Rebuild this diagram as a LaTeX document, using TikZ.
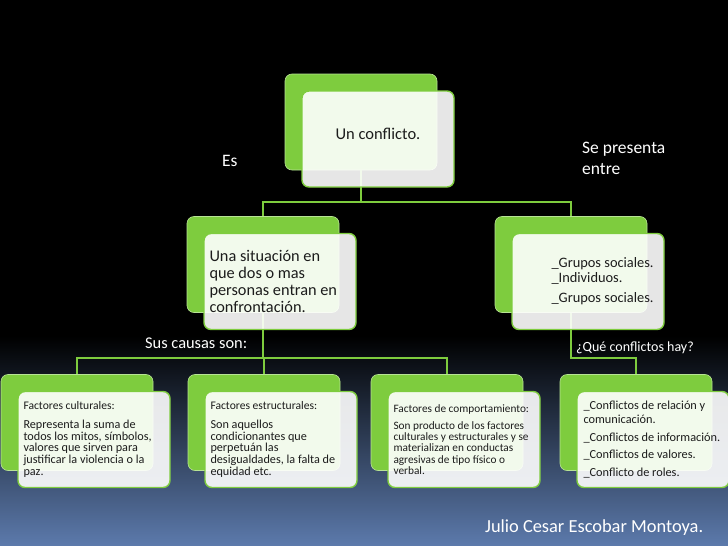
\documentclass[tikz,border=0pt]{standalone}
\usepackage{fontspec}
\setmainfont{Carlito}
\usepackage{xcolor}
\definecolor{leaf}{RGB}{126,204,62}
\definecolor{ink}{RGB}{28,28,28}
\definecolor{nightblue}{RGB}{92,122,172}
\definecolor{dusk}{RGB}{30,38,56}
\usetikzlibrary{positioning,calc}
\tikzset{
  greenbox/.style={draw=leaf!55!white, line width=0.6pt, fill=leaf,
                   rounded corners=7pt, minimum width=152pt,
                   minimum height=96pt, inner sep=0pt},
  whitebox/.style={draw=leaf, line width=1.4pt, fill=white, fill opacity=0.9,
                   rounded corners=7pt, minimum width=152pt,
                   minimum height=96pt, inner sep=0pt},
  boxtext/.style={text=ink, align=left, inner sep=0pt, anchor=west},
  link/.style={draw=leaf, line width=1.4pt},
  caption/.style={text=white, align=left, inner sep=0pt, anchor=west},
}

\begin{document}
\begin{tikzpicture}[x=1pt,y=-1pt]
\useasboundingbox (0,0) rectangle (728,546);
% background
\fill[black] (0,0) rectangle (728,546);
\shade[top color=black, bottom color=nightblue] (0,336) rectangle (728,546);

% green boxes
\node[greenbox] (conflicto-g) at (361,122) {};
\node[greenbox] (situacion-g) at (263,264.5) {};
\node[greenbox] (grupos-g) at (571,264.5) {};
\node[greenbox] (culturales-g) at (77,422.5) {};
\node[greenbox] (estructurales-g) at (264,422.5) {};
\node[greenbox] (comportamiento-g) at (447,422.5) {};
\node[greenbox] (tipos-g) at (636,422.5) {};

% connectors
\coordinate (bus1) at (0,202);
\coordinate (bus2) at (0,358);
\draw[link] (conflicto-g.south) -- (conflicto-g.south |- bus1) -| (situacion-g.north);
\draw[link] (conflicto-g.south |- bus1) -| (grupos-g.north);
\draw[link] (situacion-g.south) -- (situacion-g.south |- bus2) -| (culturales-g.north);
\draw[link] (situacion-g.south |- bus2) -| (estructurales-g.north);
\draw[link] (situacion-g.south |- bus2) -| (comportamiento-g.north);
\draw[link] (grupos-g.south) -- (grupos-g.south |- bus2) -| (tipos-g.north);

% white boxes
\foreach \b in {conflicto,situacion,grupos,culturales,estructurales,comportamiento,tipos}
  \node[whitebox] (\b) at ([shift={(17,17)}]\b-g.center) {};

% box texts
\node[boxtext, anchor=center, font=\fontsize{16.5}{18}\selectfont] (conflicto-t)
  at ([yshift=5pt]conflicto.center) {Un conflicto.};
\node[boxtext, font=\fontsize{16.3}{16.7}\selectfont] (situacion-t)
  at ([xshift=6pt]situacion.west)
  {Una situación en\\que dos o mas\\personas entran en\\confrontación.};
\node[boxtext, font=\fontsize{14.4}{15}\selectfont] (grupos-t)
  at ([xshift=40pt]grupos.west)
  {\_Grupos sociales.\\\_Individuos.\\[5pt]\_Grupos sociales.};
\node[boxtext, font=\fontsize{12.2}{11.7}\selectfont] (culturales-t)
  at ([xshift=6pt]culturales.west)
  {{\fontsize{11.6}{11.7}\selectfont Factores culturales:}\\[7pt]
   Representa la suma de\\todos los mitos, símbolos,\\valores que sirven para\\
   justificar la violencia o la\\paz.};
\node[boxtext, font=\fontsize{12.2}{11.7}\selectfont] (estructurales-t)
  at ([xshift=6pt]estructurales.west)
  {{\fontsize{11.6}{11.7}\selectfont Factores estructurales:}\\[7pt]
   Son aquellos\\condicionantes que\\perpetuán las\\
   desigualdades, la falta de\\equidad etc.};
\node[boxtext, font=\fontsize{11.3}{11.2}\selectfont] (comportamiento-t)
  at ([xshift=6pt]comportamiento.west)
  {Factores de comportamiento:\\[6pt]
   Son producto de los factores\\culturales y estructurales y se\\
   materializan en conductas\\agresivas de tipo físico o\\verbal.};
\node[boxtext, font=\fontsize{12.3}{14.5}\selectfont] (tipos-t)
  at ([xshift=7pt]tipos.west)
  {\_Conflictos de relación y\\comunicación.\\[3pt]
   \_Conflictos de información.\\[3pt]\_Conflictos de valores.\\[3pt]
   \_Conflicto de roles.};

% captions
\node[caption, font=\fontsize{17.5}{21}\selectfont] (es) at (222,161) {Es};
\node[caption, font=\fontsize{17.5}{21}\selectfont] (presenta) at (582,158)
  {Se presenta\\entre};
\node[caption, font=\fontsize{16.4}{18}\selectfont] (causas) at (145,343)
  {Sus causas son:};
\node[caption, font=\fontsize{14}{16}\selectfont] (hay) at (576,348)
  {¿Qué conflictos hay?};
\node[caption, font=\fontsize{18.4}{20}\selectfont] (autor) at (485,528)
  {Julio Cesar Escobar Montoya.};
\end{tikzpicture}
\end{document}
